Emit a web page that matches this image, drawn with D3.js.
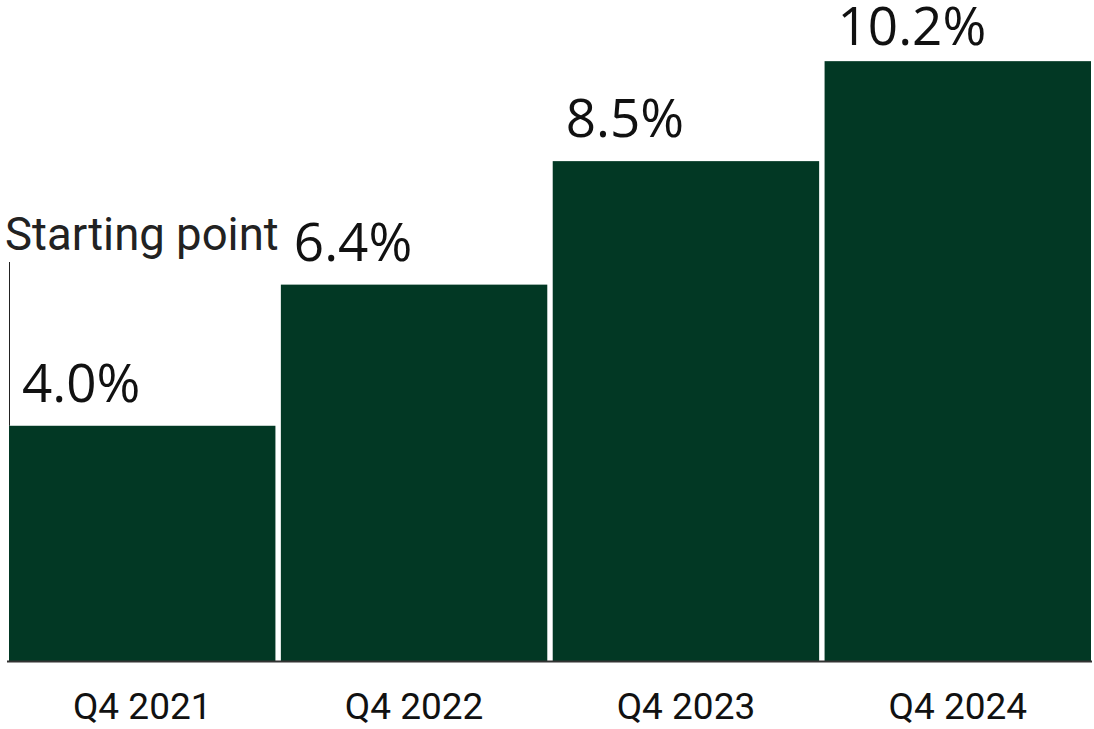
<!DOCTYPE html>
<html><head><meta charset="utf-8">
<script src="https://cdn.jsdelivr.net/npm/d3@7"></script>
<style>html,body{margin:0;padding:0;background:#fff;}svg{display:block;}</style>
</head><body>
<svg id="c" width="1094" height="729"></svg>
<script>
const categories = ["Q4 2021", "Q4 2022", "Q4 2023", "Q4 2024"];
const values = [4.0, 6.4, 8.5, 10.2];
const valueLabels = ["4.0%", "6.4%", "8.5%", "10.2%"];
const annotationText = "Starting point";

const svg = d3.select("#c");
const font = "Roboto, 'Noto Sans', sans-serif";
const valFont = "'Open Sans', Roboto, sans-serif";
const x = d3.scaleBand().domain(categories).range([9, 1091]).paddingInner(0.02).paddingOuter(0);
const y = d3.scaleLinear().domain([0, 11.24]).range([661, 0]);

svg.selectAll("rect.bar").data(values).join("rect")
  .attr("class","bar")
  .attr("x",(d,i)=>x(categories[i]))
  .attr("y",d=>y(d))
  .attr("width",x.bandwidth())
  .attr("height",d=>y(0)-y(d))
  .attr("fill","#023824");

svg.selectAll("text.val").data(values).join("text")
  .attr("class","val")
  .attr("x",(d,i)=>x(categories[i])+13)
  .attr("y",d=>Math.max(y(d)-24, 45))
  .attr("font-family",valFont)
  .attr("font-size",53)
  .attr("fill","#111")
  .text((d,i)=>valueLabels[i]);

// axis
const axis = d3.axisBottom(x).tickSize(0).tickPadding(32);
const g = svg.append("g").attr("transform",`translate(0,${y(0)})`).call(axis);
g.select(".domain").attr("d","M7,0.5H1092").attr("stroke","#333").attr("stroke-width",2);
g.selectAll("text").attr("font-family",font).attr("font-size",37).attr("fill","#111").attr("dy","0.71em");

// annotation
svg.append("line").attr("x1",9.5).attr("x2",9.5).attr("y1",262).attr("y2",y(values[0]))
  .attr("stroke","#222").attr("stroke-width",1);
svg.append("text").attr("x",5).attr("y",250).attr("font-family",font).attr("font-size",45.5)
  .attr("fill","#222").text(annotationText);
</script>
</body></html>
